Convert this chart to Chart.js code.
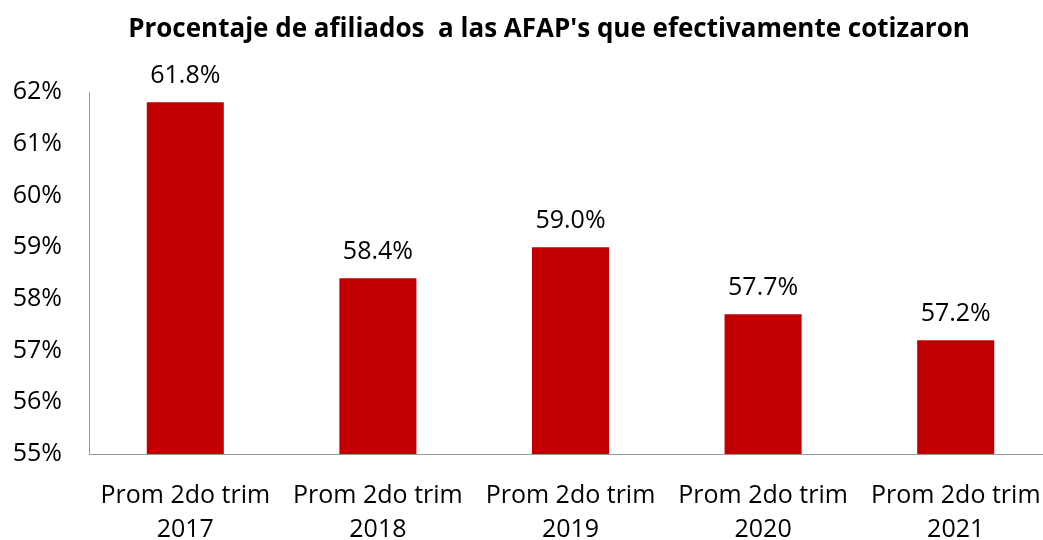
<!DOCTYPE html>
<html>
<head>
<meta charset="utf-8">
<script src="https://cdn.jsdelivr.net/npm/chart.js@4"></script>
<style>
    body { margin: 0; overflow: hidden; background: #fff; }
    #wrap { position: absolute; left: 0; top: 0; }
</style>
</head>
<body>
<div id="wrap"><canvas id="afap" width="1098" height="540"></canvas></div>
<script>
const labels = [
    ['Prom 2do trim', '2017'],
    ['Prom 2do trim', '2018'],
    ['Prom 2do trim', '2019'],
    ['Prom 2do trim', '2020'],
    ['Prom 2do trim', '2021'],
];
const cotizantes = [61.8, 58.4, 59.0, 57.7, 57.2];
const yMin = 55;
const yMax = 62;

const FONT = '"Open Sans", "Liberation Sans", sans-serif';

const titlePlugin = {
    id: 'titleText',
    afterDraw(chart) {
        const ctx = chart.ctx;
        ctx.save();
        ctx.font = 'bold 26px ' + FONT;
        ctx.fillStyle = '#000';
        ctx.textAlign = 'center';
        ctx.textBaseline = 'alphabetic';
        ctx.fillText("Procentaje de afiliados  a las AFAP's que efectivamente cotizaron", 549, 37);
        ctx.restore();
    },
};

const valueLabels = {
    id: 'valueLabels',
    afterDatasetsDraw(chart) {
        const ctx = chart.ctx;
        const meta = chart.getDatasetMeta(0);
        ctx.save();
        ctx.font = '25px ' + FONT;
        ctx.fillStyle = '#000';
        ctx.textAlign = 'center';
        ctx.textBaseline = 'alphabetic';
        meta.data.forEach((bar, i) => {
            ctx.fillText(cotizantes[i].toFixed(1) + '%', bar.x, bar.y - 19.5);
        });
        ctx.restore();
    },
};

const ctx = document.getElementById('afap');
const myChart = new Chart(ctx, {
    type: 'bar',
    data: {
        labels: labels,
        datasets: [
            {
                data: cotizantes,
                backgroundColor: '#C00000',
                categoryPercentage: 1,
                barPercentage: 0.4,
            },
        ],
    },
    options: {
        responsive: false,
        animation: false,
        layout: { padding: { top: 92, right: 46, left: 0, bottom: 0 } },
        plugins: {
            legend: { display: false },
            tooltip: { enabled: false },
        },
        scales: {
            x: {
                grid: { display: false },
                border: { display: true, color: '#999', width: 1 },
                ticks: {
                    color: '#000',
                    font: { family: FONT, size: 25, lineHeight: 1.35 },
                    padding: 17,
                    maxRotation: 0,
                    autoSkip: false,
                },
                afterFit(scale) { scale.height = 86; },
            },
            y: {
                min: yMin,
                max: yMax,
                grid: { display: false },
                border: { display: true, color: '#999', width: 1 },
                ticks: {
                    stepSize: 1,
                    color: '#000',
                    font: { family: FONT, size: 25 },
                    padding: 19,
                    callback: (v) => v + '%',
                },
                afterFit(scale) { scale.width = 89; },
            },
        },
    },
    plugins: [titlePlugin, valueLabels],
});
</script>
</body>
</html>
